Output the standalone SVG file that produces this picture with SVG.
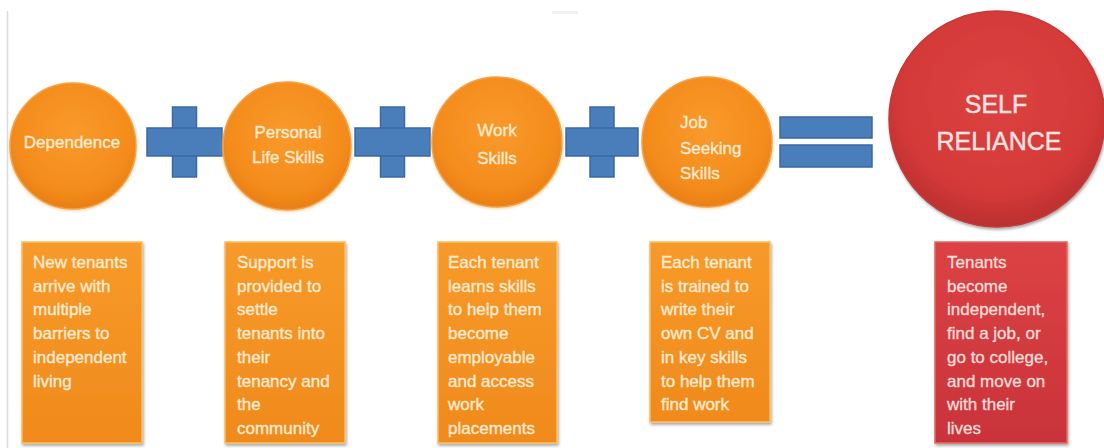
<svg xmlns="http://www.w3.org/2000/svg" width="1104" height="448" viewBox="0 0 1104 448">
  <defs>
    <radialGradient id="gOrange" cx="50%" cy="40%" r="60%">
      <stop offset="0" stop-color="#f99a2c"/>
      <stop offset="0.75" stop-color="#f48c1c"/>
      <stop offset="1" stop-color="#e97f14"/>
    </radialGradient>
    <radialGradient id="gRed" cx="50%" cy="40%" r="60%">
      <stop offset="0" stop-color="#dc4241"/>
      <stop offset="0.75" stop-color="#d43938"/>
      <stop offset="1" stop-color="#bb2f2f"/>
    </radialGradient>
    <linearGradient id="gBoxO" x1="0" y1="0" x2="0" y2="1">
      <stop offset="0" stop-color="#f79a2a"/>
      <stop offset="1" stop-color="#f08a1c"/>
    </linearGradient>
    <linearGradient id="gBoxR" x1="0" y1="0" x2="0" y2="1">
      <stop offset="0" stop-color="#dc4244"/>
      <stop offset="1" stop-color="#c9333a"/>
    </linearGradient>
    <filter id="shadow" x="-10%" y="-10%" width="125%" height="125%">
      <feDropShadow dx="1" dy="2" stdDeviation="1.5" flood-color="#000" flood-opacity="0.35"/>
    </filter>
    <filter id="glow" x="-10%" y="-10%" width="120%" height="120%">
      <feDropShadow dx="0" dy="1" stdDeviation="1.5" flood-color="#f6b460" flood-opacity="0.6"/>
    </filter>
  </defs>
  <style>
    .circO { fill: url(#gOrange); stroke: #f3a24a; stroke-width: 1.5; filter: url(#glow); }
    .circR { fill: url(#gRed); stroke: #c23a38; stroke-width: 1.5; filter: url(#shadow); }
    .boxO { fill: url(#gBoxO); stroke: #f8c060; stroke-width: 1.5; filter: url(#shadow); }
    .boxR { fill: url(#gBoxR); stroke: #e06a60; stroke-width: 1.5; filter: url(#shadow); }
    .op { fill: #4a7ebb; stroke: #3a69a3; stroke-width: 1.5; }
    .t { font-family: "Liberation Sans", Arial, sans-serif; font-size: 17px; fill: #fdebd2; stroke: #fdebd2; stroke-width: 0.35; }
    .tr { font-family: "Liberation Sans", Arial, sans-serif; font-size: 17px; fill: #f8dcd8; stroke: #f8dcd8; stroke-width: 0.35; }
    .big { font-family: "Liberation Sans", Arial, sans-serif; font-size: 25px; fill: #f9e4e0; stroke: #f9e4e0; stroke-width: 0.4; text-anchor: middle; }
    .mid { text-anchor: middle; }
  </style>
  <rect x="0" y="0" width="1104" height="448" fill="#ffffff"/>
  <line x1="7.5" y1="11" x2="7.5" y2="448" stroke="#dcdcdc" stroke-width="1.5"/>
  <rect x="552" y="11" width="26" height="3" fill="#f0f0f0"/>

  <g id="connectors">
    <g id="plus1">
      <rect class="op" x="172.5" y="107" width="24" height="70"/>
      <rect class="op" x="147" y="128" width="75" height="28"/>
      <rect x="173.5" y="129" width="22" height="26" fill="#4a7ebb"/>
    </g>
    <g id="plus2">
      <rect class="op" x="380.5" y="107" width="24" height="70"/>
      <rect class="op" x="355" y="128" width="75" height="28"/>
      <rect x="381.5" y="129" width="22" height="26" fill="#4a7ebb"/>
    </g>
    <g id="plus3">
      <rect class="op" x="590" y="107" width="24" height="70"/>
      <rect class="op" x="566" y="128" width="72" height="28"/>
      <rect x="591" y="129" width="22" height="26" fill="#4a7ebb"/>
    </g>
    <g id="equals">
      <rect class="op" x="780" y="117" width="92" height="21"/>
      <rect class="op" x="780" y="145" width="92" height="22"/>
    </g>
  </g>

  <g id="dependence">
    <circle class="circO" cx="73" cy="146" r="63"/>
    <text class="t mid" x="72" y="148">Dependence</text>
  </g>
  <g id="personal-life-skills">
    <circle class="circO" cx="287" cy="146" r="64"/>
    <text class="t mid" x="288" y="138">Personal</text>
    <text class="t mid" x="288" y="163">Life Skills</text>
  </g>
  <g id="work-skills">
    <circle class="circO" cx="497" cy="142" r="65"/>
    <text class="t mid" x="497" y="136">Work</text>
    <text class="t mid" x="497" y="164">Skills</text>
  </g>
  <g id="job-seeking-skills">
    <circle class="circO" cx="707" cy="142" r="65"/>
    <text class="t" x="680" y="128">Job</text>
    <text class="t" x="680" y="154">Seeking</text>
    <text class="t" x="680" y="179">Skills</text>
  </g>
  <g id="self-reliance">
    <circle class="circR" cx="997" cy="119" r="108"/>
    <text class="big" x="996" y="113">SELF</text>
    <text class="big" x="999" y="150">RELIANCE</text>
  </g>

  <g id="box-dependence">
    <rect class="boxO" x="22" y="242" width="120" height="201"/>
    <text class="t" x="33" y="268">
      <tspan x="33">New tenants</tspan>
      <tspan x="33" dy="23.7">arrive with</tspan>
      <tspan x="33" dy="23.7">multiple</tspan>
      <tspan x="33" dy="23.7">barriers to</tspan>
      <tspan x="33" dy="23.7">independent</tspan>
      <tspan x="33" dy="23.7">living</tspan>
    </text>
  </g>
  <g id="box-personal">
    <rect class="boxO" x="225" y="242" width="120" height="201"/>
    <text class="t" x="237" y="268">
      <tspan x="237">Support is</tspan>
      <tspan x="237" dy="23.7">provided to</tspan>
      <tspan x="237" dy="23.7">settle</tspan>
      <tspan x="237" dy="23.7">tenants into</tspan>
      <tspan x="237" dy="23.7">their</tspan>
      <tspan x="237" dy="23.7">tenancy and</tspan>
      <tspan x="237" dy="23.7">the</tspan>
      <tspan x="237" dy="23.7">community</tspan>
    </text>
  </g>
  <g id="box-work">
    <rect class="boxO" x="438" y="242" width="119" height="201"/>
    <text class="t" x="448" y="268">
      <tspan x="448">Each tenant</tspan>
      <tspan x="448" dy="23.7">learns skills</tspan>
      <tspan x="448" dy="23.7">to help them</tspan>
      <tspan x="448" dy="23.7">become</tspan>
      <tspan x="448" dy="23.7">employable</tspan>
      <tspan x="448" dy="23.7">and access</tspan>
      <tspan x="448" dy="23.7">work</tspan>
      <tspan x="448" dy="23.7">placements</tspan>
    </text>
  </g>
  <g id="box-job">
    <rect class="boxO" x="650" y="242" width="120" height="180"/>
    <text class="t" x="661" y="268">
      <tspan x="661">Each tenant</tspan>
      <tspan x="661" dy="23.7">is trained to</tspan>
      <tspan x="661" dy="23.7">write their</tspan>
      <tspan x="661" dy="23.7">own CV and</tspan>
      <tspan x="661" dy="23.7">in key skills</tspan>
      <tspan x="661" dy="23.7">to help them</tspan>
      <tspan x="661" dy="23.7">find work</tspan>
    </text>
  </g>
  <g id="box-self-reliance">
    <rect class="boxR" x="935" y="242" width="132" height="201"/>
    <text class="tr" x="947" y="268">
      <tspan x="947">Tenants</tspan>
      <tspan x="947" dy="23.7">become</tspan>
      <tspan x="947" dy="23.7">independent,</tspan>
      <tspan x="947" dy="23.7">find a job, or</tspan>
      <tspan x="947" dy="23.7">go to college,</tspan>
      <tspan x="947" dy="23.7">and move on</tspan>
      <tspan x="947" dy="23.7">with their</tspan>
      <tspan x="947" dy="23.7">lives</tspan>
    </text>
  </g>
</svg>
